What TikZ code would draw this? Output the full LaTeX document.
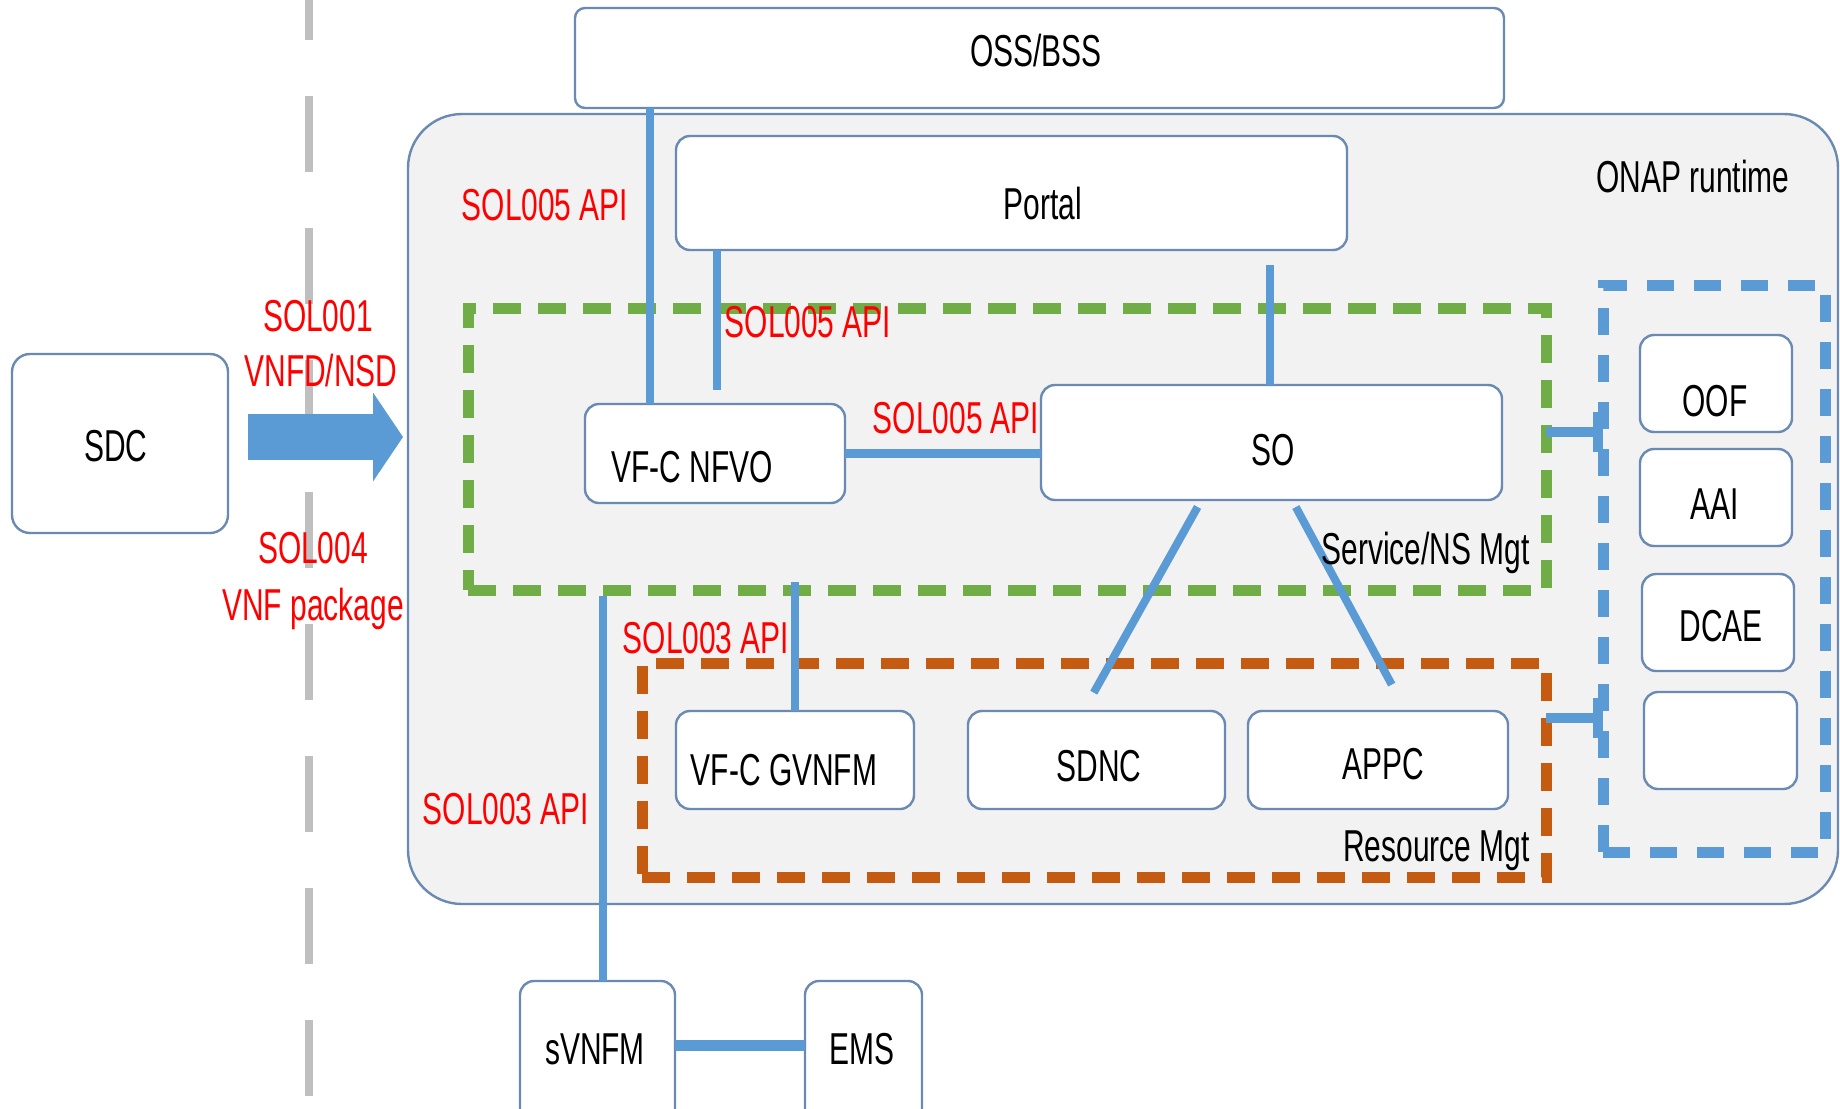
\documentclass[tikz,border=0pt]{standalone}
\usepackage{fontspec}
\setmainfont{Liberation Sans}[FakeStretch=0.67]
\usetikzlibrary{arrows.meta}
\definecolor{cblue}{HTML}{5B9BD5}
\definecolor{cgreen}{HTML}{70AD47}
\definecolor{corange}{HTML}{C55A11}
\definecolor{cborder}{HTML}{6A8AB3}
\definecolor{cfill}{HTML}{F2F2F2}
\definecolor{cgray}{HTML}{BFBFBF}
\begin{document}
\begin{tikzpicture}[x=0.5pt,y=-0.5pt,
  font=\fontsize{22.35pt}{26pt}\selectfont,
  box/.style={draw=cborder, line width=1.2pt, fill=white, rounded corners=7pt, inner sep=0pt, outer sep=0pt},
  txt/.style={inner sep=0pt, text height=16pt, text depth=0pt},
  api/.style={txt, text=red},
  conn/.style={draw=cblue, line width=4pt},
  grp/.style={draw=#1, line width=5.5pt, dash pattern=on 14pt off 8.5pt, inner sep=0pt, outer sep=0pt},
  bigarrow/.style={draw=cblue, line width=23pt, -{Triangle[width=44.5pt,length=15pt,line width=0pt]}},
  tbar/.style={draw=cblue, line width=5pt, -{Bar[width=20pt]}}
]
\useasboundingbox (0,0) rectangle (1840,1108);
\clip (0,0) rectangle (1840,1108);

% separator
\draw[cgray, line width=4pt, dash pattern=on 38pt off 28pt] (309,-36) -- (309,1108);

% SDC
\node[box, rounded corners=9pt, minimum width=108pt, minimum height=89.5pt] (sdc) at (120,443.5) {};

% ONAP runtime area
\node[draw=cborder, line width=1.2pt, fill=cfill, rounded corners=27pt, inner sep=0pt, outer sep=0pt,
      minimum width=715pt, minimum height=395pt] (onap) at (1123,509) {};

% arrow SDC -> ONAP
\draw[bigarrow, shorten <=10pt, shorten >=2.5pt] (sdc.east |- 0,437) -- (onap.west |- 0,437);

% OSS/BSS
\node[box, rounded corners=5pt, minimum width=464.5pt, minimum height=50pt] (oss) at (1039.5,58) {};
% Portal
\node[box, minimum width=335.5pt, minimum height=57pt] (portal) at (1011.5,193) {};

% groups
\node[grp=cgreen, minimum width=539pt, minimum height=141pt] (green) at (1007,449) {};
\node[grp=corange, minimum width=452pt, minimum height=107pt] (orange) at (1094,770) {};
\node[grp=cblue, dash pattern=on 13.5pt off 10pt, minimum width=111pt, minimum height=283.5pt] (bluebox) at (1714,568.5) {};

% boxes
\node[box, minimum width=130pt, minimum height=49.5pt] (nfvo) at (715,453.5) {};
\node[box, minimum width=230.5pt, minimum height=57.5pt] (so) at (1271.5,442.5) {};
\node[box, minimum width=119pt, minimum height=49pt] (gvnfm) at (795,760) {};
\node[box, minimum width=128.5pt, minimum height=49pt] (sdnc) at (1096.5,760) {};
\node[box, minimum width=130pt, minimum height=49pt] (appc) at (1378,760) {};
\node[box, minimum width=76pt, minimum height=48.5pt] (oof) at (1716,383.5) {};
\node[box, minimum width=76pt, minimum height=48.5pt] (aai) at (1716,497.5) {};
\node[box, minimum width=76pt, minimum height=48.5pt] (dcae) at (1718,622.5) {};
\node[box, minimum width=76.5pt, minimum height=48.5pt] (spare) at (1720.5,740.5) {};
\node[box, minimum width=77.5pt, minimum height=74.5pt] (svnfm) at (597.5,1055.5) {};
\node[box, minimum width=58.5pt, minimum height=74.5pt] (ems) at (863.5,1055.5) {};

% connectors
\draw[conn] (oss.south -| 650,0) -- (nfvo.north -| 650,0);
\draw[conn, shorten >=7pt] (portal.south -| 717,0) -- (nfvo.north -| 717,0);
\draw[conn, shorten <=7.5pt] (portal.south -| 1270,0) -- (so.north -| 1270,0);
\draw[conn, line width=4.5pt] (nfvo.east |- 0,453) -- (so.west |- 0,453);
\draw[conn, shorten <=4pt, shorten >=10.5pt] ([xshift=-35pt]so.south) -- ([xshift=-6.5pt]sdnc.north);
\draw[conn, shorten <=4pt, shorten >=15pt] ([xshift=10.25pt]so.south) -- ([xshift=14pt]appc.north);
\draw[conn, shorten <=-4pt] (green.south -| gvnfm.north) -- (gvnfm.north);
\draw[conn, shorten <=3pt] ([xshift=2.75pt]svnfm.north |- green.south) -- ([xshift=2.75pt]svnfm.north);
\draw[conn, line width=5.5pt] (svnfm.east |- 0,1045) -- (ems.west |- 0,1045);
\draw[tbar] (green.east |- 0,432) -- (bluebox.west |- 0,432);
\draw[tbar] (orange.east |- 0,718) -- (bluebox.west |- 0,718);

% texts
\node[txt] (t-oss) at (1036,50) {OSS/BSS};
\node[txt] (t-onap) at (1693,176) {ONAP runtime};
\node[txt] (t-portal) at (1043,203) {Portal};
\node[txt] (t-nfvo) at (692,466) {VF-C NFVO};
\node[txt] (t-so) at (1273,449) {SO};
\node[txt] (t-gvnfm) at (784,769) {VF-C GVNFM};
\node[txt] (t-sdnc) at (1099,765) {SDNC};
\node[txt] (t-appc) at (1383,763) {APPC};
\node[txt] (t-oof) at (1715,400) {OOF};
\node[txt] (t-aai) at (1715,503) {AAI};
\node[txt] (t-dcae) at (1721,625) {DCAE};
\node[txt] (t-sdc) at (116,445) {SDC};
\node[txt] (t-svnfm) at (595,1048) {sVNFM};
\node[txt] (t-ems) at (862,1048) {EMS};
\node[txt, anchor=east] (t-svc) at (1530,548) {Service/NS Mgt};
\node[txt, anchor=east] (t-res) at (1530,845) {Resource Mgt};

\node[api] (a1) at (545,204) {SOL005 API};
\node[api] (a2) at (808,321) {SOL005 API};
\node[api] (a3) at (956,417) {SOL005 API};
\node[api] (a4) at (318,315) {SOL001};
\node[api] (a5) at (321,370) {VNFD/NSD};
\node[api] (a6) at (313,547) {SOL004};
\node[api] (a7) at (313,604) {VNF package};
\node[api] (a8) at (706,637) {SOL003 API};
\node[api] (a9) at (506,808) {SOL003 API};
\end{tikzpicture}
\end{document}
